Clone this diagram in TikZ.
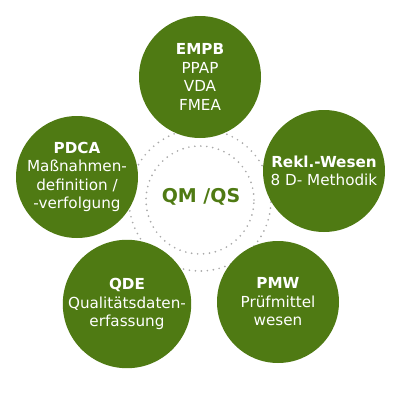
\documentclass[tikz,border=0pt]{standalone}
\usepackage{fontspec}
\setmainfont{DejaVu Sans}
\definecolor{qmgreen}{RGB}{79,122,19}
\definecolor{dotgray}{RGB}{170,170,170}
\begin{document}
\begin{tikzpicture}[x=1pt,y=-1pt,
  bubble/.style={circle, fill=qmgreen, minimum size=122pt, inner sep=0pt, text=white, align=center, font=\fontsize{15.2}{18.5}\selectfont},
  dotring/.style={draw=dotgray, line width=1.9pt, dash pattern=on 0pt off 6pt, line cap=round},
  hub/.style={text=qmgreen, font=\fontsize{19}{22}\selectfont\bfseries}]
\useasboundingbox (0,0) rectangle (400,400);
\coordinate (c) at (200,200);
\draw[dotring] (c) circle[radius=54pt];
\draw[dotring] (c) circle[radius=71pt];
\node[hub] (qm) at (201,197) {QM /QS};
\node[bubble] (empb) at (200,77) {\textbf{EMPB}\\PPAP\\VDA\\FMEA};
\node[bubble] (pdca) at (77,177) {\textbf{PDCA}\\Maßnahmen-\\definition /\\-verfolgung};
\node[bubble] (rekl) at (324,171) {\textbf{Rekl.-Wesen}\\8 D- Methodik};
\node[bubble] (qde) at (127,304) {\textbf{QDE}\\Qualitätsdaten-\\erfassung};
\node[bubble] (pmw) at (278,302) {\textbf{PMW}\\Prüfmittel\\wesen};
\end{tikzpicture}
\end{document}
